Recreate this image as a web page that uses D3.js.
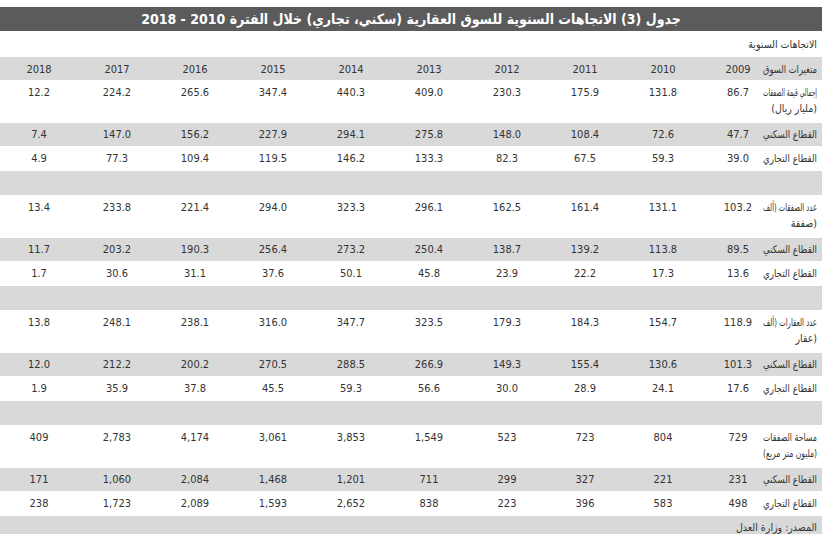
<!DOCTYPE html><html><head><meta charset="utf-8"><script src="https://cdn.jsdelivr.net/npm/d3@7"></script>
<style>body{margin:0;background:#fff}</style></head><body><svg id="c" width="830" height="534"></svg>
<script>
const title = "جدول (3) الاتجاهات السنوية للسوق العقارية (سكني، تجاري) خلال الفترة 2010 - 2018";
const subtitle = "الاتجاهات السنوية";
const headerLabel = "متغيرات السوق";
const years = ["2018","2017","2016","2015","2014","2013","2012","2011","2010","2009"];
const source = "المصدر: وزارة العدل";
const labels = [
 ["إجمالي قيمة الصفقات","(مليار ريال)"],["القطاع السكني"],["القطاع التجاري"],null,
 ["عدد الصفقات (ألف","صفقة)"],["القطاع السكني"],["القطاع التجاري"],null,
 ["عدد العقارات (ألف","عقار)"],["القطاع السكني"],["القطاع التجاري"],null,
 ["مساحة الصفقات","(مليون متر مربع)"],["القطاع السكني"],["القطاع التجاري"]];
const values = [
 ["12.2","224.2","265.6","347.4","440.3","409.0","230.3","175.9","131.8","86.7"],
 ["7.4","147.0","156.2","227.9","294.1","275.8","148.0","108.4","72.6","47.7"],
 ["4.9","77.3","109.4","119.5","146.2","133.3","82.3","67.5","59.3","39.0"],
 null,
 ["13.4","233.8","221.4","294.0","323.3","296.1","162.5","161.4","131.1","103.2"],
 ["11.7","203.2","190.3","256.4","273.2","250.4","138.7","139.2","113.8","89.5"],
 ["1.7","30.6","31.1","37.6","50.1","45.8","23.9","22.2","17.3","13.6"],
 null,
 ["13.8","248.1","238.1","316.0","347.7","323.5","179.3","184.3","154.7","118.9"],
 ["12.0","212.2","200.2","270.5","288.5","266.9","149.3","155.4","130.6","101.3"],
 ["1.9","35.9","37.8","45.5","59.3","56.6","30.0","28.9","24.1","17.6"],
 null,
 ["409","2,783","4,174","3,061","3,853","1,549","523","723","804","729"],
 ["171","1,060","2,084","1,468","1,201","711","299","327","221","231"],
 ["238","1,723","2,089","1,593","2,652","838","223","396","583","498"]];

const svg = d3.select("#c");
const F = "'DejaVu Sans Condensed','Noto Sans',sans-serif";
const W = 822, L = 0, LX = 817, LMAX = 54;
const x = d3.scaleBand().domain(years).range([0, 780]);
const xOff = {"2009": -3};
function label(t, yy){
  const el = svg.append("text").attr("x",LX).attr("y",yy).attr("text-anchor","end").attr("fill","#333")
    .attr("font-family",F).attr("font-size",10.5).text(t);
  const w = el.node().getComputedTextLength();
  if (w > LMAX) el.attr("textLength",LMAX).attr("lengthAdjust","spacingAndGlyphs");
}
let y = 7;
svg.append("rect").attr("x",L).attr("y",y).attr("width",W).attr("height",24).attr("fill","#5b5b5b");
svg.append("text").attr("x",W/2).attr("y",y+17).attr("text-anchor","middle").attr("fill","#fff")
 .attr("font-family",F).attr("font-weight","bold").attr("font-size",14).text(title);
y = 32;
svg.append("text").attr("x",LX).attr("y",y+16).attr("text-anchor","end").attr("fill","#333").attr("font-family",F).attr("font-size",10.5).text(subtitle);
y = 57;
function row(h, gray){ if(gray) svg.append("rect").attr("x",L).attr("y",y).attr("width",W).attr("height",h).attr("fill","#d9d9d9"); }
row(23,true);
label(headerLabel, y+16);
years.forEach(yr=>svg.append("text").attr("x",x(yr)+x.bandwidth()/2+(xOff[yr]||0)).attr("y",y+16).attr("text-anchor","middle").attr("fill","#333").attr("font-family",F).attr("font-size",11).text(yr));
y += 24;
labels.forEach((lab,i)=>{
  const h = lab===null ? 24 : (lab.length>1 ? 41 : 23);
  const gray = lab===null || i%4===1;
  row(h, gray);
  if(lab){
    lab.forEach((t,j)=>label(t, y+15+j*16));
    values[i].forEach((v,k)=>svg.append("text").attr("x",x(years[k])+x.bandwidth()/2+(xOff[years[k]]||0)).attr("y",y+15).attr("text-anchor","middle").attr("fill","#333").attr("font-family",F).attr("font-size",11).text(v));
  }
  y += h + 1;
});
row(23,true);
svg.append("text").attr("x",LX).attr("y",y+15).attr("text-anchor","end").attr("fill","#333").attr("font-family",F).attr("font-size",10.5).text(source);
</script></body></html>
